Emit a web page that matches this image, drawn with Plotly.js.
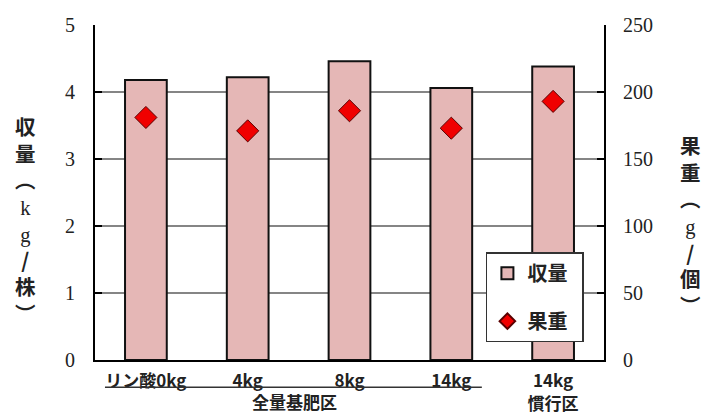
<!DOCTYPE html>
<html>
<head>
<meta charset="utf-8">
<script src="https://cdn.plot.ly/plotly-3.0.1.min.js"></script>
<style>
  html, body { margin: 0; padding: 0; background: #fff; }
  #chart { width: 705px; height: 414px; }
</style>
</head>
<body>
<div id="chart"></div>
<script>
// 区分（カテゴリ）とラベル
const categories = ['リン酸0kg', '4kg', '8kg', '14kg', '14kg<br>慣行区'];
// 収量 (kg/株)
const yieldPerPlant = [4.18, 4.22, 4.46, 4.06, 4.38];
// 果重 (g/個)
const fruitWeight = [181, 171, 186, 173, 193];

const jp = 'Noto Sans CJK JP, Noto Sans, sans-serif';
const serif = 'Liberation Serif, Times New Roman, serif';
const latin = (s) => '<span style="font-family:Liberation Serif;font-weight:normal">' + s + '</span>';
const pad = '\u2002';

const traces = [
  {
    type: 'bar',
    name: '収量' + pad,
    x: categories,
    y: yieldPerPlant,
    width: 0.41,
    marker: { color: '#E5B7B6', line: { color: '#111', width: 2 } },
    legendgroup: 'a',
    hoverinfo: 'skip'
  },
  {
    type: 'scatter',
    mode: 'markers',
    name: '果重' + pad,
    x: categories,
    y: fruitWeight,
    yaxis: 'y2',
    marker: { symbol: 'diamond', size: 17, color: '#F00000', line: { color: '#5a0000', width: 1 } },
    legendgroup: 'b',
    hoverinfo: 'skip'
  }
];

const layout = {
  width: 705,
  height: 414,
  margin: { l: 95, r: 101, t: 25, b: 54 },
  paper_bgcolor: '#fff',
  plot_bgcolor: '#fff',
  showlegend: true,
  legend: {
    x: 0.768, y: 0.322, xanchor: 'left', yanchor: 'top',
    bgcolor: '#fff', bordercolor: '#333', borderwidth: 1.5,
    font: { family: jp, size: 20, color: '#222', weight: 'bold' },
    traceorder: 'grouped', tracegroupgap: 19,
    itemsizing: 'constant'
  },
  xaxis: {
    type: 'category',
    showline: true, linecolor: '#000', linewidth: 2,
    ticks: '', showgrid: false,
    tickfont: { family: jp, size: 17, color: '#222', weight: 'bold' },
    ticklabelstandoff: 5
  },
  yaxis: {
    range: [0, 5], dtick: 1,
    showgrid: true, gridcolor: '#858585', gridwidth: 1.5,
    zeroline: false,
    showline: true, linecolor: '#000', linewidth: 2,
    ticks: 'inside', ticklen: 7, tickwidth: 2, tickcolor: '#000',
    tickfont: { family: serif, size: 20, color: '#222' },
    ticklabelstandoff: 14
  },
  yaxis2: {
    range: [0, 250], dtick: 50,
    overlaying: 'y', side: 'right',
    showgrid: false, zeroline: false,
    showline: true, linecolor: '#000', linewidth: 2,
    ticks: 'inside', ticklen: 7, tickwidth: 2, tickcolor: '#000',
    tickfont: { family: serif, size: 20, color: '#222' },
    ticklabelstandoff: 13
  },
  shapes: [
    // 全量基肥区のグループ線
    { type: 'line', xref: 'paper', yref: 'paper', x0: 0.0196, x1: 0.760, y0: -0.081, y1: -0.081,
      line: { color: '#333', width: 1.5 } }
  ],
  annotations: [
    { xref: 'paper', yref: 'paper', x: 0.391, y: -0.123, xanchor: 'center', yanchor: 'middle',
      showarrow: false, borderpad: 0,
      text: '全量基肥区', font: { family: jp, size: 17, color: '#222', weight: 'bold' } },
    { xref: 'paper', yref: 'paper', x: -0.1375, y: 0.418, xanchor: 'center', yanchor: 'middle',
      showarrow: false, borderpad: 0,
      text: ['収', '量', '︵', latin('k'), latin('g'), '/', '株', '︶'].join('<br>'),
      font: { family: jp, size: 20.5, color: '#222', weight: 'bold' } },
    { xref: 'paper', yref: 'paper', x: 1.169, y: 0.403, xanchor: 'center', yanchor: 'middle',
      showarrow: false, borderpad: 0,
      text: ['果', '重', '︵', latin('g'), '/', '個', '︶'].join('<br>'),
      font: { family: jp, size: 20.5, color: '#222', weight: 'bold' } }
  ]
};

Plotly.newPlot('chart', traces, layout, { displayModeBar: false, staticPlot: true });
</script>
</body>
</html>
